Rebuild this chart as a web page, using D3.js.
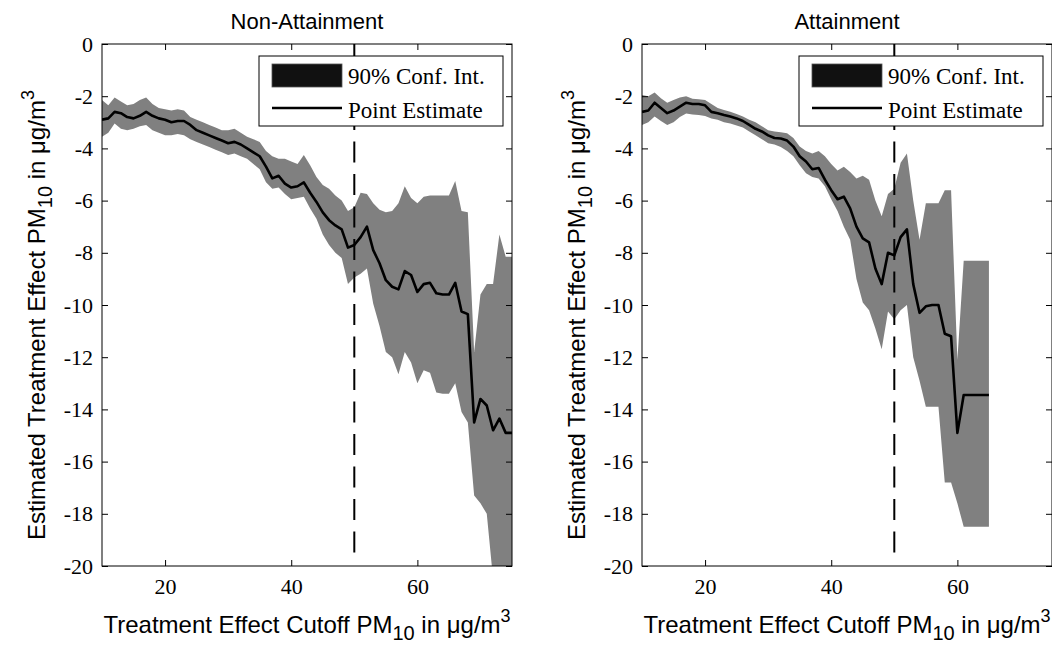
<!DOCTYPE html>
<html><head><meta charset="utf-8">
<script src="https://cdn.jsdelivr.net/npm/d3@7"></script>
<style>body{margin:0;background:#fff}</style>
</head><body>
<svg id="chart" width="1052" height="646"></svg>
<script>
// ---------- data ----------
const titles = ["Non-Attainment", "Attainment"];
const cutoff = 50;
const xTicks = [20, 40, 60];
const yTicks = [0, -2, -4, -6, -8, -10, -12, -14, -16, -18, -20];
const xDomain = [10, 75];
const yDomain = [-20, 0];
const legendLabels = ["90% Conf. Int.", "Point Estimate"];

const xNon = [10,11,12,13,14,15,16,17,18,19,20,21,22,23,24,25,26,27,28,29,30,31,32,33,34,35,36,37,38,39,40,41,42,43,44,45,46,47,48,49,50,51,52,53,54,55,56,57,58,59,60,61,62,63,64,65,66,67,68,69,70,71,72,73,74,75];
const peNon = [-2.9,-2.85,-2.6,-2.65,-2.8,-2.85,-2.75,-2.6,-2.75,-2.85,-2.9,-3.0,-2.95,-2.95,-3.1,-3.3,-3.4,-3.5,-3.6,-3.7,-3.8,-3.75,-3.85,-4.0,-4.15,-4.3,-4.7,-5.15,-5.05,-5.35,-5.5,-5.45,-5.3,-5.7,-6.05,-6.45,-6.75,-6.95,-7.1,-7.8,-7.7,-7.4,-7.0,-7.9,-8.4,-9.05,-9.3,-9.4,-8.7,-8.85,-9.5,-9.2,-9.15,-9.55,-9.6,-9.6,-9.15,-10.25,-10.35,-14.5,-13.6,-13.85,-14.8,-14.35,-14.9,-14.9];
const upNon = [-2.15,-2.35,-2.05,-2.2,-2.35,-2.3,-2.15,-2.05,-2.3,-2.45,-2.5,-2.55,-2.5,-2.55,-2.8,-2.9,-3.0,-3.1,-3.2,-3.3,-3.3,-3.25,-3.4,-3.55,-3.65,-3.75,-4.1,-4.3,-4.4,-4.4,-4.5,-4.6,-4.25,-4.65,-5.1,-5.4,-5.55,-5.8,-6.0,-6.4,-6.25,-5.7,-5.75,-6.1,-6.35,-6.45,-6.4,-6.1,-5.45,-5.9,-6.1,-5.85,-5.8,-5.8,-5.8,-5.8,-5.25,-6.4,-6.45,-11.8,-9.6,-9.2,-9.2,-7.3,-8.15,-8.15];
const loNon = [-3.55,-3.4,-3.05,-3.25,-3.3,-3.25,-3.15,-3.1,-3.3,-3.4,-3.5,-3.5,-3.45,-3.5,-3.65,-3.75,-3.85,-3.95,-4.05,-4.15,-4.25,-4.2,-4.3,-4.4,-4.6,-4.8,-5.3,-5.55,-5.5,-5.75,-5.95,-5.9,-5.85,-6.3,-6.7,-7.3,-7.7,-8.0,-8.2,-9.2,-8.95,-8.8,-8.6,-9.95,-10.8,-11.8,-12.0,-12.65,-11.8,-12.2,-13.0,-12.5,-12.6,-13.35,-13.4,-13.4,-13.0,-14.1,-14.5,-17.3,-17.6,-18.0,-20.5,-21.5,-22.0,-22.0];

const xAtt = [10,11,12,13,14,15,16,17,18,19,20,21,22,23,24,25,26,27,28,29,30,31,32,33,34,35,36,37,38,39,40,41,42,43,44,45,46,47,48,49,50,51,52,53,54,55,56,57,58,59,60,61,62,63,64,65];
const peAtt = [-2.6,-2.55,-2.25,-2.45,-2.65,-2.55,-2.4,-2.25,-2.3,-2.3,-2.35,-2.6,-2.65,-2.72,-2.78,-2.85,-2.95,-3.1,-3.25,-3.35,-3.5,-3.6,-3.62,-3.7,-3.93,-4.3,-4.5,-4.8,-4.75,-5.2,-5.6,-5.95,-5.85,-6.3,-7.0,-7.45,-7.6,-8.6,-9.2,-8.0,-8.1,-7.4,-7.1,-9.2,-10.3,-10.05,-10.0,-10.0,-11.1,-11.2,-14.9,-13.45,-13.45,-13.45,-13.45,-13.45];
const upAtt = [-1.95,-2.0,-1.86,-2.08,-2.25,-2.15,-2.05,-2.0,-2.1,-2.12,-2.15,-2.3,-2.45,-2.53,-2.6,-2.68,-2.78,-2.9,-3.0,-3.15,-3.3,-3.35,-3.38,-3.42,-3.6,-3.93,-4.1,-4.2,-4.1,-4.3,-4.6,-4.85,-4.7,-4.9,-5.15,-5.05,-5.2,-6.0,-6.6,-5.75,-5.55,-4.55,-4.2,-6.0,-7.5,-6.1,-6.1,-6.1,-5.6,-5.6,-12.1,-8.3,-8.3,-8.3,-8.3,-8.3];
const loAtt = [-3.1,-3.0,-2.78,-2.95,-3.1,-3.0,-2.8,-2.66,-2.7,-2.72,-2.76,-2.85,-2.9,-3.0,-3.05,-3.12,-3.2,-3.35,-3.5,-3.65,-3.8,-3.85,-3.95,-4.1,-4.3,-4.65,-4.95,-5.1,-5.15,-5.45,-5.95,-6.4,-7.0,-7.5,-9.0,-9.9,-10.2,-10.9,-11.7,-10.25,-10.55,-10.2,-10.0,-12.0,-12.9,-13.9,-13.9,-13.9,-16.8,-16.8,-17.6,-18.5,-18.5,-18.5,-18.5,-18.5];

// ---------- layout ----------
const svg = d3.select("#chart");
const plotTop = 44, plotW = 410, plotH = 522;
const panelLefts = [102, 642];
const series = [
  {x: xNon, pe: peNon, up: upNon, lo: loNon},
  {x: xAtt, pe: peAtt, up: upAtt, lo: loAtt}
];
const sans = "'Liberation Sans', Arial, sans-serif";
const serif = "'Liberation Serif', 'Times New Roman', serif";
const bandColor = "#808080";
const labelSize = 24;

function axisLabel(sel) {
  sel.append("tspan").text("PM");
  sel.append("tspan").attr("font-size", 20).attr("dy", 7).text("10");
  sel.append("tspan").attr("dy", -7).text(" in \u03BCg/m");
  sel.append("tspan").attr("font-size", 18).attr("dy", -11).text("3");
}

series.forEach((s, i) => {
  const left = panelLefts[i];
  const g = svg.append("g").attr("transform", `translate(${left},${plotTop})`);
  const x = d3.scaleLinear().domain(xDomain).range([0, plotW]);
  const y = d3.scaleLinear().domain(yDomain).range([plotH, 0]);

  const clipId = "clip" + i;
  g.append("clipPath").attr("id", clipId).append("rect")
    .attr("x", 0).attr("y", 0).attr("width", plotW).attr("height", plotH);

  const idx = d3.range(s.x.length);
  const area = d3.area()
    .x(j => x(s.x[j])).y0(j => y(s.lo[j])).y1(j => y(s.up[j]));
  g.append("path").attr("clip-path", `url(#${clipId})`)
    .attr("d", area(idx)).attr("fill", bandColor).attr("stroke", "none");

  // dashed cutoff
  g.append("line")
    .attr("x1", x(cutoff)).attr("x2", x(cutoff))
    .attr("y1", y(0)).attr("y2", y(-19.5))
    .attr("stroke", "#000").attr("stroke-width", 2)
    .attr("stroke-dasharray", "21,11.5");

  const line = d3.line().x(j => x(s.x[j])).y(j => y(s.pe[j]));
  g.append("path").attr("clip-path", `url(#${clipId})`)
    .attr("d", line(idx)).attr("fill", "none")
    .attr("stroke", "#000").attr("stroke-width", 2.6).attr("stroke-linejoin", "round");

  // axes (inward ticks on all sides)
  const ax = [
    g.append("g").attr("transform", `translate(0,${plotH})`)
      .call(d3.axisBottom(x).tickValues(xTicks).tickSizeInner(-6).tickSizeOuter(0).tickPadding(12).tickFormat(d3.format("d"))),
    g.append("g")
      .call(d3.axisTop(x).tickValues(xTicks).tickSizeInner(-6).tickSizeOuter(0).tickFormat("")),
    g.append("g")
      .call(d3.axisLeft(y).tickValues(yTicks).tickSizeInner(-6).tickSizeOuter(0).tickPadding(9).tickFormat(d => d === 0 ? "0" : "-" + Math.abs(d))),
    g.append("g").attr("transform", `translate(${plotW},0)`)
      .call(d3.axisRight(y).tickValues(yTicks).tickSizeInner(-6).tickSizeOuter(0).tickFormat(""))
  ];
  ax.forEach(a => {
    a.select(".domain").remove();
    a.selectAll(".tick line").attr("stroke", "#000");
    a.selectAll("text").attr("font-family", serif).attr("font-size", 22).attr("fill", "#000");
  });

  g.append("rect").attr("x", 0).attr("y", 0).attr("width", plotW).attr("height", plotH)
    .attr("fill", "none").attr("stroke", "#000").attr("stroke-width", 1);

  // legend
  const lg = g.append("g").attr("transform", "translate(157,12)");
  lg.append("rect").attr("width", 244).attr("height", 70)
    .attr("fill", "#fff").attr("stroke", "#000").attr("stroke-width", 1);
  lg.append("rect").attr("x", 13).attr("y", 8).attr("width", 70).attr("height", 23)
    .attr("fill", "#111").attr("stroke", "#555").attr("stroke-width", 0.8);
  lg.append("line").attr("x1", 13).attr("x2", 83).attr("y1", 52).attr("y2", 52)
    .attr("stroke", "#000").attr("stroke-width", 2.6);
  lg.selectAll("text.leg").data(legendLabels).join("text").attr("class", "leg")
    .attr("x", 89).attr("y", (d, k) => 28 + k * 34)
    .attr("font-family", serif).attr("font-size", 23).attr("fill", "#000")
    .text(d => d);

  // title
  svg.append("text").attr("x", left + plotW / 2).attr("y", 29)
    .attr("text-anchor", "middle").attr("font-family", sans).attr("font-size", 22)
    .attr("fill", "#000").text(titles[i]);

  // x label
  const xl = svg.append("text").attr("x", left + plotW / 2).attr("y", 633)
    .attr("text-anchor", "middle").attr("font-family", sans)
    .attr("font-size", labelSize).attr("fill", "#000");
  xl.append("tspan").text("Treatment Effect Cutoff ");
  axisLabel(xl);

  // y label
  const yl = svg.append("text")
    .attr("transform", `translate(${left - 57},${plotTop + plotH / 2 + 10}) rotate(-90)`)
    .attr("text-anchor", "middle").attr("font-family", sans)
    .attr("font-size", labelSize).attr("fill", "#000");
  yl.append("tspan").text("Estimated Treatment Effect ");
  axisLabel(yl);
});
</script>
</body></html>
